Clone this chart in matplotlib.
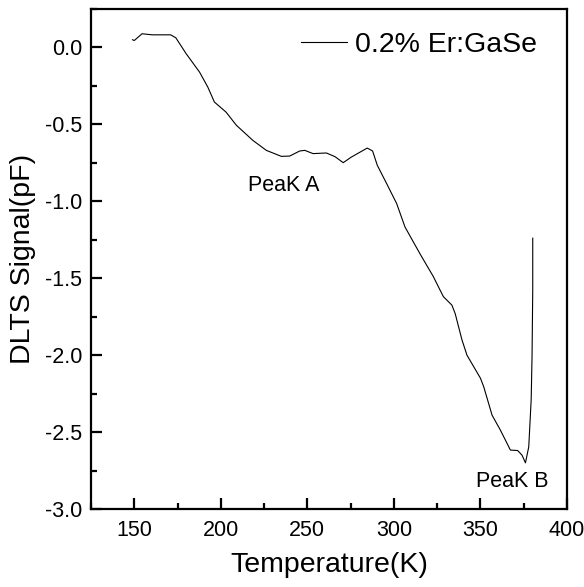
import matplotlib
matplotlib.use('Agg')
import matplotlib.pyplot as plt
from matplotlib.ticker import MultipleLocator

plt.rcParams['font.family'] = ['Liberation Sans', 'DejaVu Sans']

# DLTS curve
temp = [149, 150, 154.5, 160.4, 171, 174, 180, 187.7, 192.5, 196.3, 203, 209,
        218.5, 226.3, 235, 239.8, 245.6, 248.5, 253.3, 261, 266, 270.7, 275.5,
        284.6, 287.7, 290.4, 295.8, 301.6, 306.4, 315, 322.8, 326.7, 328.6,
        333.5, 335.4, 339.3, 342.2, 350, 351.9, 356.7, 361.5, 367.3, 371.5,
        374, 376, 377.9, 379.3, 379.8, 380.2, 380.2]
signal = [0.05, 0.045, 0.089, 0.082, 0.082, 0.063, -0.041, -0.16, -0.258,
          -0.355, -0.42, -0.506, -0.604, -0.669, -0.708, -0.706, -0.673,
          -0.669, -0.69, -0.686, -0.71, -0.749, -0.712, -0.654, -0.673,
          -0.766, -0.885, -1.015, -1.167, -1.34, -1.49, -1.578, -1.62, -1.675,
          -1.73, -1.90, -2.0, -2.15, -2.206, -2.39, -2.487, -2.617, -2.62,
          -2.65, -2.70, -2.596, -2.29, -2.01, -1.58, -1.24]

fig = plt.figure(figsize=(5.84, 5.87), dpi=100)
ax = fig.add_axes([0.1558, 0.1329, 0.8151, 0.8518])

ax.plot(temp, signal, color='black', lw=0.8, label='0.2% Er:GaSe')

ax.set_xlim(125, 400)
ax.set_ylim(-3.0, 0.25)
ax.xaxis.set_major_locator(MultipleLocator(50))
ax.xaxis.set_minor_locator(MultipleLocator(25))
ax.yaxis.set_major_locator(MultipleLocator(0.5))
ax.yaxis.set_minor_locator(MultipleLocator(0.25))
ax.yaxis.set_major_formatter(plt.FuncFormatter(lambda v, p: '%.1f' % v))

for s in ax.spines.values():
    s.set_linewidth(1.6)
ax.tick_params(which='both', direction='in', top=False, right=False,
               labelsize=15.5, width=1.6)
ax.tick_params(which='major', length=8)
ax.tick_params(which='minor', length=4.5)
ax.tick_params(axis='y', pad=6.5)
ax.tick_params(axis='x', pad=8)

ax.set_xlabel('Temperature(K)', fontsize=20.5, labelpad=8)
ax.set_ylabel('DLTS Signal(pF)', fontsize=20.5, labelpad=6)

ax.text(236.3, -0.896, 'PeaK A', fontsize=15.5, ha='center', va='center')
ax.text(368.2, -2.82, 'PeaK B', fontsize=15.5, ha='center', va='center')

ax.legend(loc='upper right', frameon=False, fontsize=20.5, handlelength=1.6,
          handletextpad=0.3, bbox_to_anchor=(0.985, 1.0), borderaxespad=0.4)

fig.savefig('out.png', dpi=100)
